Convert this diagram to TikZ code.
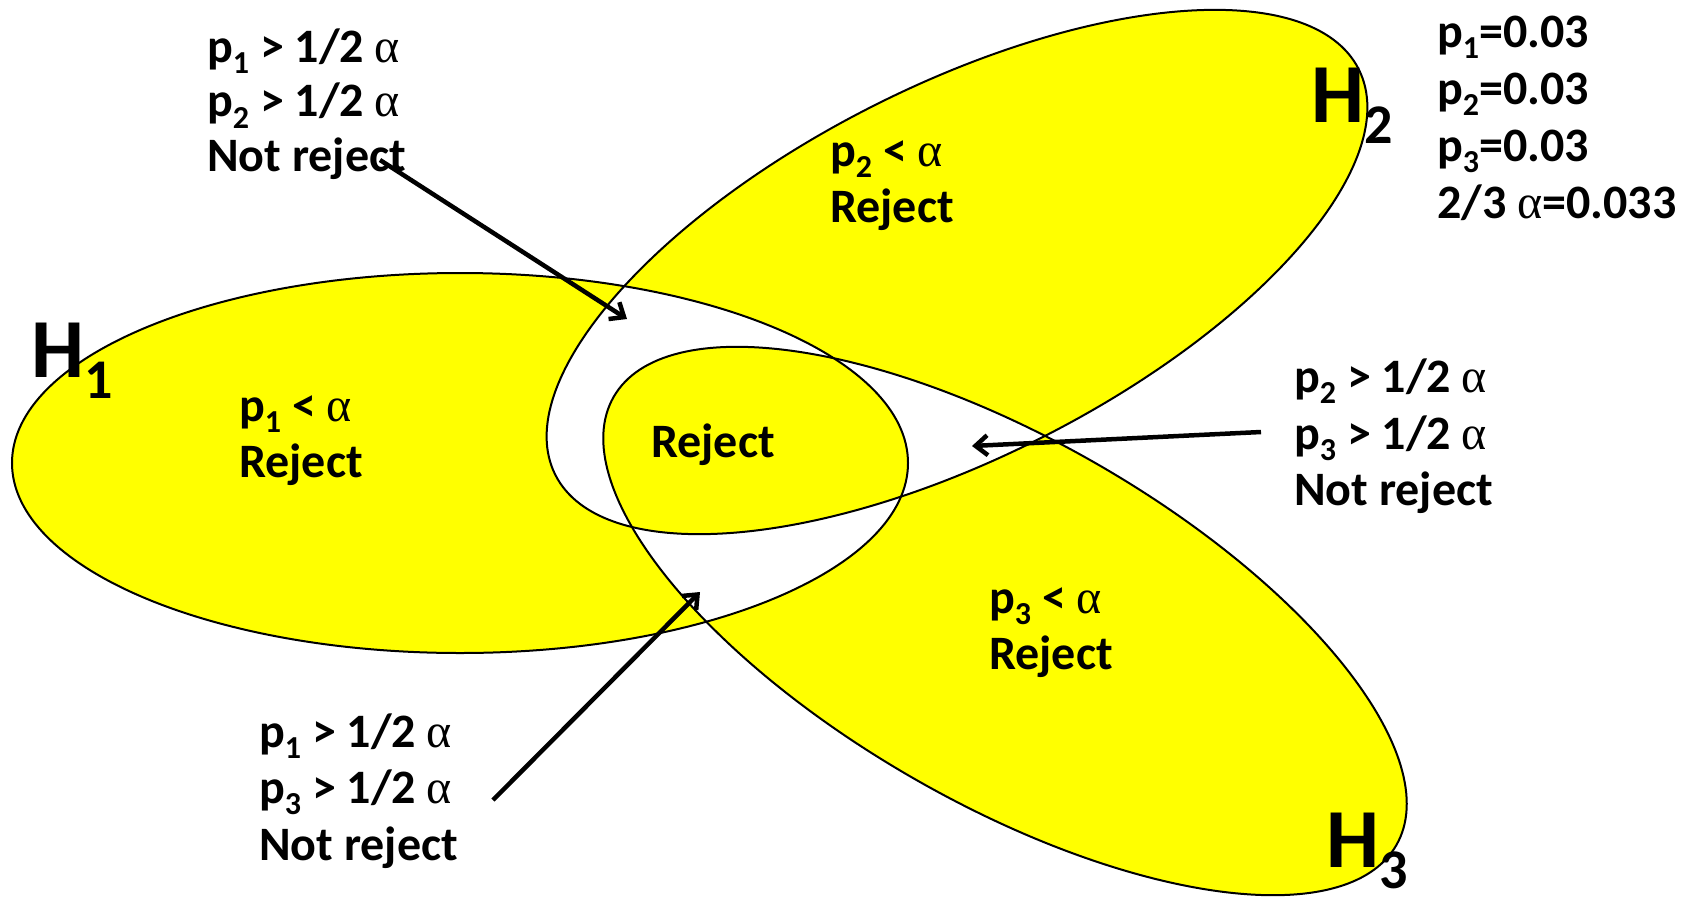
\documentclass[tikz,border=0pt]{standalone}
\usepackage{fontspec}
\setmainfont{Carlito}
\newfontfamily\grk{Liberation Serif}
\usetikzlibrary{arrows.meta}
\definecolor{yel}{RGB}{255,255,0}
\newcommand\pv[1]{p\raisebox{-0.24em}{\fontsize{32}{32}\selectfont #1}}
\newcommand\al{{\grk\mdseries α}}
\newcommand\Hl[1]{H\raisebox{-21pt}{\fontsize{56}{56}\selectfont #1}}
\begin{document}
\begin{tikzpicture}[x=1pt,y=-1pt,
  txt/.style={anchor=base west, inner sep=0pt, font=\fontsize{48}{56}\selectfont\bfseries},
  hlab/.style={anchor=base west, inner sep=0pt, font=\fontsize{84}{84}\selectfont\bfseries},
  outl/.style={draw=black, line width=2pt},
  arr/.style={draw=black, line width=4.5pt, -{Straight Barb[length=12pt,width=20pt]}}]
\useasboundingbox (0,0) rectangle (1694,900);
\coordinate (c1) at (460,463);
\coordinate (c2) at (957,272);
\coordinate (c3) at (1005,621);
\begin{scope}[xshift=3pt]
\fill[yel, even odd rule] (c1) ellipse [x radius=448, y radius=190]
  (c2) ellipse [x radius=450, y radius=186, rotate=26.8]
  (c3) ellipse [x radius=451, y radius=182, rotate=-29.8];
\end{scope}
\draw[outl] (c1) ellipse [x radius=448, y radius=190];
\draw[outl] (c2) ellipse [x radius=450, y radius=186, rotate=26.8];
\draw[outl] (c3) ellipse [x radius=451, y radius=182, rotate=-29.8];

% H labels
\node[hlab] (h1) at (31,377) {\Hl{1}};
\node[hlab] (h2) at (1311,122) {\Hl{2}};
\node[hlab] (h3) at (1326,867) {\Hl{3}};

% top-left block
\node[txt] (tl1) at (207,62) {\pv{1} > 1/2 \al};
\node[txt] (tl2) at (207,116.5) {\pv{2} > 1/2 \al};
\node[txt] (tl3) at (207,171) {Not reject};

% top-right block
\node[txt] (tr1) at (1437,47) {\pv{1}=0.03};
\node[txt] (tr2) at (1437,104) {\pv{2}=0.03};
\node[txt] (tr3) at (1437,161) {\pv{3}=0.03};
\node[txt] (tr4) at (1437,218) {2/3 \al=0.033};

% middle-right block
\node[txt] (mr1) at (1294,392) {\pv{2} > 1/2 \al};
\node[txt] (mr2) at (1294,449) {\pv{3} > 1/2 \al};
\node[txt] (mr3) at (1294,505) {Not reject};

% bottom-left block
\node[txt] (bl1) at (259,747) {\pv{1} > 1/2 \al};
\node[txt] (bl2) at (259,803) {\pv{3} > 1/2 \al};
\node[txt] (bl3) at (259,860) {Not reject};

% region labels
\node[txt] (r1a) at (239,421) {\pv{1} < \al};
\node[txt] (r1b) at (239,477) {Reject};
\node[txt] (r2a) at (830,166) {\pv{2} < \al};
\node[txt] (r2b) at (830,222) {Reject};
\node[txt] (r0) at (651,457) {Reject};
\node[txt] (r3a) at (989,613) {\pv{3} < \al};
\node[txt] (r3b) at (989,669) {Reject};

% arrows
\coordinate (a1s) at (380,160);
\coordinate (a1e) at (627,319);
\coordinate (a2s) at (1261,432);
\coordinate (a2e) at (972,446);
\coordinate (a3s) at (493,800);
\coordinate (a3e) at (700,592);
\draw[arr] (a1s) -- (a1e);
\draw[arr] (a2s) -- (a2e);
\draw[arr] (a3s) -- (a3e);
\end{tikzpicture}
\end{document}
